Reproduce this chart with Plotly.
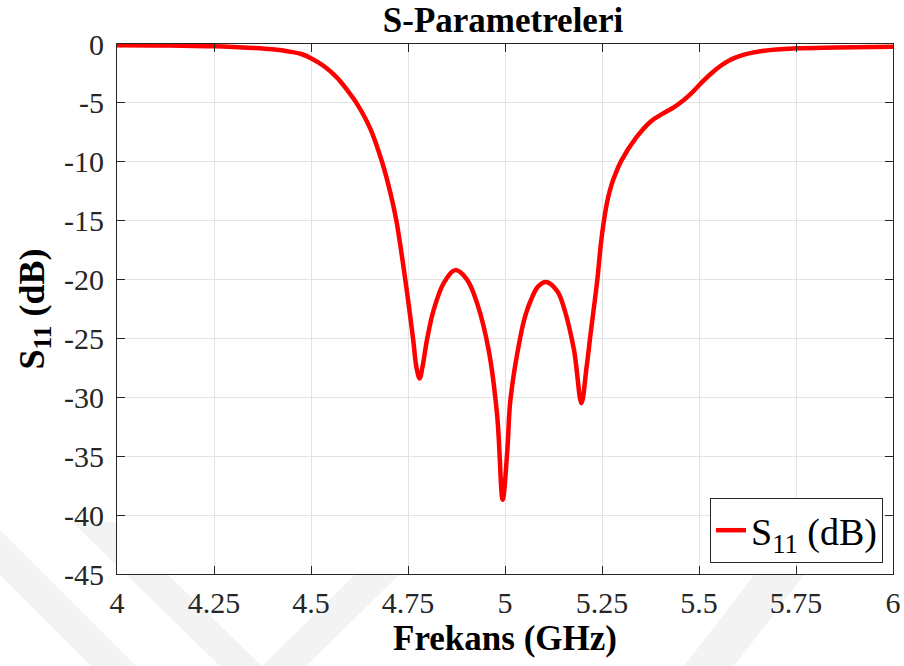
import plotly.graph_objects as go

# S11 trace (frequency in GHz, magnitude in dB)
freq_ghz = [4.0, 4.1, 4.2, 4.25, 4.3, 4.35, 4.4, 4.446, 4.475, 4.5, 4.532, 4.567, 4.593, 4.617, 4.653,
            4.683, 4.705, 4.72, 4.743, 4.763, 4.772, 4.780, 4.788, 4.799, 4.816, 4.842,
            4.872, 4.902, 4.928, 4.958, 4.980, 4.994, 5.006, 5.014, 5.040, 5.053, 5.066, 5.085, 5.106,
            5.135, 5.152, 5.178, 5.197, 5.21, 5.221, 5.238, 5.247, 5.255, 5.264, 5.275, 5.285,
            5.300, 5.337, 5.375, 5.41, 5.436, 5.461, 5.48, 5.5, 5.53, 5.556, 5.58, 5.608,
            5.668, 5.75, 5.85, 6.0]
s11_db = [-0.1, -0.12, -0.16, -0.2, -0.25, -0.33, -0.45, -0.65, -0.85, -1.2, -1.85, -2.85, -3.9, -5.0, -7.2,
          -10.0, -12.7, -15.0, -20.0, -25.0, -27.5, -28.4, -27.3, -25.1, -22.6, -20.3,
          -19.2, -20.0, -22.0, -26.0, -31.6, -38.7, -34.5, -30.2, -24.8, -23.0, -21.8, -20.6, -20.2,
          -21.0, -22.4, -26.0, -30.5, -27.5, -24.5, -20.0, -17.0, -15.0, -13.3, -11.9, -11.0,
          -9.9, -8.0, -6.6, -5.85, -5.35, -4.75, -4.2, -3.5, -2.55, -1.85, -1.35, -0.98,
          -0.57, -0.37, -0.3, -0.23]

x_ticks = [4, 4.25, 4.5, 4.75, 5, 5.25, 5.5, 5.75, 6]
x_tick_text = ["4", "4.25", "4.5", "4.75", "5", "5.25", "5.5", "5.75", "6"]
y_ticks = [0, -5, -10, -15, -20, -25, -30, -35, -40, -45]
y_tick_text = ["0", "-5", "-10", "-15", "-20", "-25", "-30", "-35", "-40", "-45"]

serif = "Liberation Serif"
W, H = 904, 666
L, R, T, B = 117, 11, 44, 92
pw, ph = W - L - R, H - T - B


def px(x, y):
    # page pixel -> paper coords (used only for the faint background watermark)
    return (x - L) / pw, (H - B - y) / ph


# faint diagonal watermark bands seen behind the lower margin
bands = [
    [(0, 530), (136, 666), (91, 666), (0, 575)],
    [(72, 522), (114, 522), (262, 666), (220, 666)],
    [(262, 666), (306, 666), (404, 570), (360, 570)],
    [(684, 666), (734, 666), (808, 570), (758, 570)],
]

fig = go.Figure()
fig.add_trace(go.Scatter(
    x=freq_ghz, y=s11_db, mode="lines", name="S<sub>11</sub> (dB)",
    line=dict(color="#ff0000", width=4.5, shape="spline", smoothing=1.0),
))

for band in bands:
    pts = [px(x, y) for x, y in band]
    path = "M " + " L ".join(f"{a:.4f},{b:.4f}" for a, b in pts) + " Z"
    fig.add_shape(type="path", path=path, xref="paper", yref="paper",
                  fillcolor="#f3f3f3", line=dict(width=0), layer="below")
fig.add_shape(type="rect", xref="x domain", yref="y domain", x0=0, x1=1, y0=0, y1=1,
              fillcolor="white", line=dict(width=0), layer="below")

axis_common = dict(
    showline=True, linecolor="#262626", linewidth=1, mirror="allticks",
    ticks="inside", ticklen=8, tickcolor="#262626",
    showgrid=True, gridcolor="#e3e3e3", gridwidth=1,
    zeroline=False, tickfont=dict(family=serif, size=30, color="#262626"),
)

fig.update_xaxes(range=[4, 6], tickvals=x_ticks, ticktext=x_tick_text, ticklabelstandoff=2,
                 title=dict(text="<b>Frekans (GHz)</b>", font=dict(family=serif, size=35, color="#000"),
                            standoff=2),
                 **axis_common)
fig.update_yaxes(range=[-45, 0], tickvals=y_ticks, ticktext=y_tick_text, ticklabelstandoff=6,
                 title=dict(text="<b>S<sub>11</sub> (dB)</b>", font=dict(family=serif, size=36, color="#000"),
                            standoff=8),
                 **axis_common)

fig.update_layout(
    width=W, height=H,
    font=dict(family=serif, color="#262626"),
    margin=dict(l=L, r=R, t=T, b=B, autoexpand=False),
    paper_bgcolor="white", plot_bgcolor="white",
    title=dict(text="<b>S-Parametreleri</b>", x=503 / W, xanchor="center", y=1 - 20 / H, yanchor="middle",
               font=dict(family=serif, size=35, color="#000")),
    showlegend=True,
    legend=dict(x=1 - 10 / pw, xanchor="right", y=11 / ph, yanchor="bottom",
                bgcolor="white", bordercolor="#262626", borderwidth=1,
                font=dict(family=serif, size=38, color="#000")),
)

fig.write_html("out.html", config={"displayModeBar": False},
               post_script="document.body.style.margin='0';")
